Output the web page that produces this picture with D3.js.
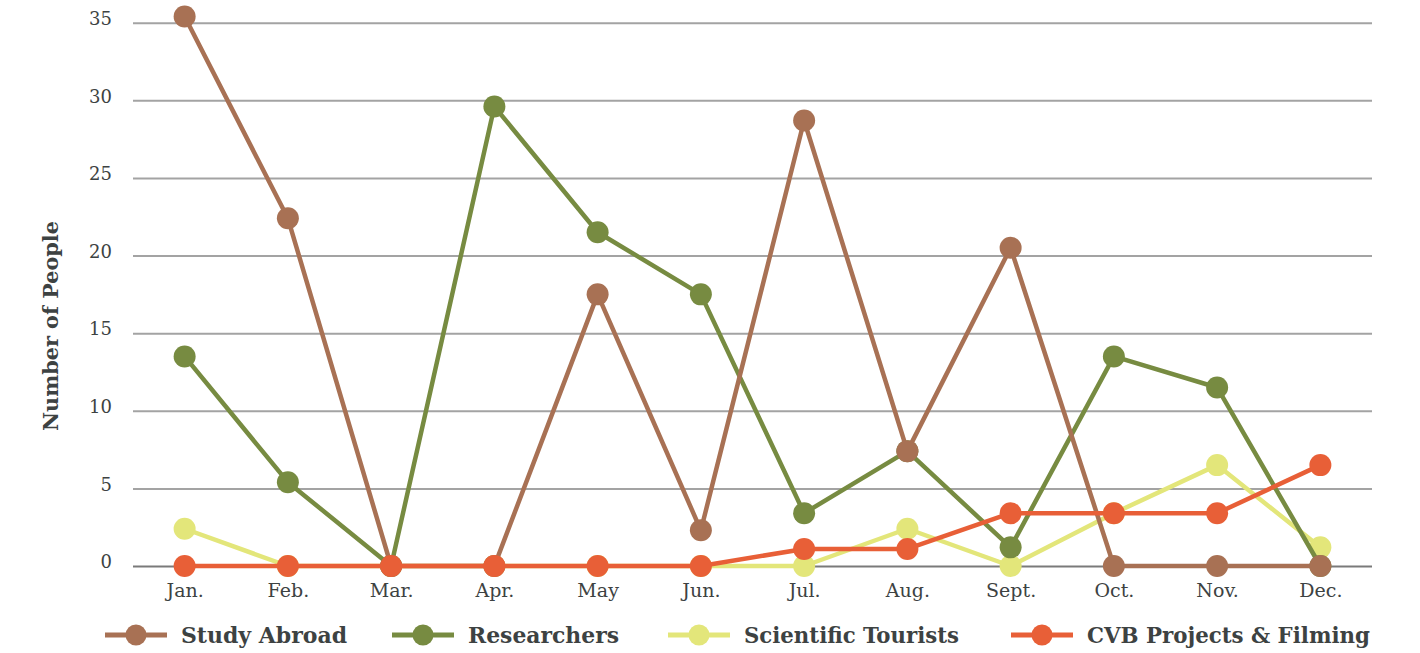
<!DOCTYPE html>
<html>
<head>
<meta charset="utf-8">
<script src="https://cdn.jsdelivr.net/npm/d3@7"></script>
<style>
  html, body { margin: 0; padding: 0; background: #fff; }
  svg { display: block; }
  text { font-family: "DejaVu Serif", Georgia, serif; fill: #3d4242; }
</style>
</head>
<body>
<svg id="chart" width="1420" height="653"></svg>
<script>
const months = ["Jan.", "Feb.", "Mar.", "Apr.", "May", "Jun.", "Jul.", "Aug.", "Sept.", "Oct.", "Nov.", "Dec."];
const yTicks = [0, 5, 10, 15, 20, 25, 30, 35];
const seriesNames = ["Study Abroad", "Researchers", "Scientific Tourists", "CVB Projects & Filming"];
const studyAbroad = [35.4, 22.4, 0, 0, 17.5, 2.3, 28.7, 7.4, 20.5, 0, 0, 0];
const researchers = [13.5, 5.4, 0, 29.6, 21.5, 17.5, 3.4, 7.4, 1.2, 13.5, 11.5, 0];
const scientificTourists = [2.4, 0, 0, 0, 0, 0, 0, 2.4, 0, 3.4, 6.5, 1.2];
const cvbProjects = [0, 0, 0, 0, 0, 0, 1.1, 1.1, 3.4, 3.4, 3.4, 6.5];
const colors = ["#a87154", "#778b41", "#e3e67a", "#e85f37"];

const seriesData = [studyAbroad, researchers, scientificTourists, cvbProjects];
const series = seriesNames.map((name, i) => ({ name, values: seriesData[i], color: colors[i] }));
// drawing order (bottom to top)
const drawOrder = [2, 1, 0, 3];

const svg = d3.select("#chart");
const left = 133, right = 1372;
const fontFam = '"DejaVu Serif", Georgia, serif';

const x = d3.scalePoint().domain(months).range([left, right]).padding(0.5);
const y = d3.scaleLinear().domain([0, 35]).range([566, 22.7]);

// gridlines
const yAxis = d3.axisLeft(y).tickValues(yTicks).tickSize(-(right - left)).tickPadding(21);
const gy = svg.append("g").attr("transform", `translate(${left},0)`).call(yAxis);
gy.select(".domain").remove();
gy.selectAll(".tick line").attr("stroke", "#a3a3a3").attr("stroke-width", 2)
  .filter(d => d === 0).attr("stroke", "#7a7a7a");
gy.selectAll(".tick text").attr("font-size", 18).attr("fill", "#3d4242")
  .attr("font-family", fontFam).attr("dy", "0.1em");

// x labels
const xAxis = d3.axisBottom(x).tickSize(0).tickPadding(18);
const gx = svg.append("g").attr("transform", `translate(0,${y(0)})`).call(xAxis);
gx.select(".domain").remove();
gx.selectAll(".tick text").attr("font-size", 19).attr("fill", "#3d4242")
  .attr("font-family", fontFam);

// y title
svg.append("text")
  .attr("transform", `translate(58,${(220 + 432) / 2}) rotate(-90)`)
  .attr("text-anchor", "middle")
  .attr("font-size", 21).attr("font-weight", "bold")
  .attr("textLength", 210).attr("lengthAdjust", "spacingAndGlyphs")
  .text("Number of People");

const line = d3.line().x((d, i) => x(months[i])).y(d => y(d));

drawOrder.forEach(si => {
  const s = series[si];
  const g = svg.append("g");
  g.append("path").datum(s.values)
    .attr("d", line).attr("fill", "none")
    .attr("stroke", s.color).attr("stroke-width", 4.5).attr("stroke-linejoin", "round");
  g.selectAll("circle").data(s.values).join("circle")
    .attr("cx", (d, i) => x(months[i])).attr("cy", d => y(d))
    .attr("r", 11).attr("fill", s.color);
});

// legend
const legendY = 635;
const legendX = [105, 392, 668, 1011];
const legendTextW = [166, 151, 215, 283];
const lg = svg.append("g");
series.forEach((s, i) => {
  const g = lg.append("g").attr("transform", `translate(${legendX[i]},${legendY})`);
  g.append("line").attr("x1", 0).attr("x2", 62).attr("y1", 0).attr("y2", 0)
    .attr("stroke", s.color).attr("stroke-width", 5);
  g.append("circle").attr("cx", 31).attr("cy", 0).attr("r", 10.5).attr("fill", s.color);
  g.append("text").attr("x", 76).attr("y", 0).attr("dy", "0.35em")
    .attr("font-size", 22).attr("font-weight", "bold").attr("fill", "#3a3f3f")
    .attr("textLength", legendTextW[i]).attr("lengthAdjust", "spacingAndGlyphs")
    .text(s.name);
});
</script>
</body>
</html>
